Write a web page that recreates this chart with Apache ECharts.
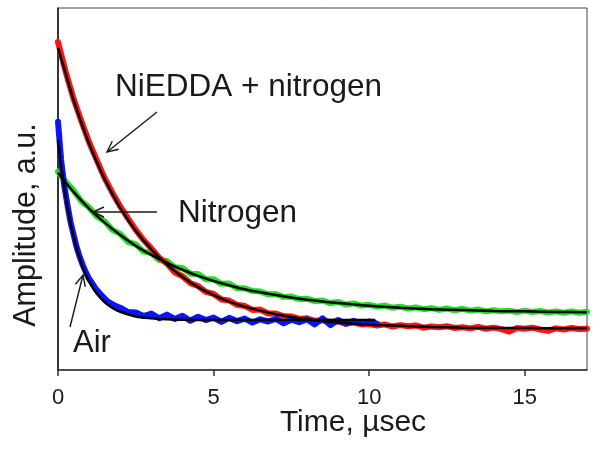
<!DOCTYPE html>
<html>
<head>
<meta charset="utf-8">
<script src="https://cdn.jsdelivr.net/npm/echarts@6/dist/echarts.min.js"></script>
<style>
html,body{margin:0;padding:0;background:#fff;}
#chart{width:601px;height:453px;}
</style>
</head>
<body>
<div id="chart"></div>
<script>
// ---- data (time in µsec, amplitude in a.u. 0..100) ----
const xTickLabels = [0, 5, 10, 15];

const tData = [0,0.25,0.5,0.75,1,1.25,1.5,1.75,2,2.25,2.5,2.75,3,3.25,3.5,3.75,4,4.25,4.5,4.75,5,5.25,5.5,5.75,6,6.25,6.5,6.75,7,7.25,7.5,7.75,8,8.25,8.5,8.75,9,9.25,9.5,9.75,10,10.25,10.5,10.75,11,11.25,11.5,11.75,12,12.25,12.5,12.75,13,13.25,13.5,13.75,14,14.25,14.5,14.75,15,15.25,15.5,15.75,16,16.25,16.5,16.75,17];

const niEddaData = [90.6,82.3,74.9,68.8,62.9,57.9,53.0,48.9,45.2,41.9,38.7,35.9,33.6,31.0,29.4,27.0,25.9,24.0,23.2,21.6,21.0,19.5,19.2,18.0,17.7,16.6,16.7,15.6,15.6,14.9,14.8,14.1,14.3,13.6,13.7,13.3,13.4,12.8,13.1,12.6,12.7,12.3,12.6,12.0,12.4,12.1,12.3,11.7,12.0,11.8,12.1,11.6,11.8,11.5,11.9,11.4,11.7,11.3,10.6,11.6,11.4,11.7,11.2,10.8,11.5,11.2,11.6,11.3,11.4];

const nitrogenData = [54.8,52.0,49.6,46.6,44.9,42.4,41.1,38.7,37.6,35.4,34.7,32.7,32.3,30.4,30.1,28.4,28.2,26.6,26.5,25.1,25.1,23.8,23.9,22.6,22.6,21.8,21.7,20.9,21.0,20.2,20.3,19.6,19.7,19.0,19.2,18.5,18.8,18.1,18.4,17.8,18.0,17.5,17.8,17.2,17.5,17.0,17.3,16.8,17.1,16.6,17.0,16.5,16.9,16.4,16.7,16.2,16.5,16.2,16.4,16.0,16.4,16.0,16.3,15.9,16.2,15.8,16.2,15.8,16.1];

const tAir = [0,0.1,0.2,0.3,0.4,0.5,0.6,0.7,0.8,0.9,1.0,1.2,1.4,1.6,1.8,2.0,2.25,2.5,2.75,3,3.25,3.5,3.75,4,4.25,4.5,4.75,5,5.25,5.5,5.75,6,6.25,6.5,6.75,7,7.25,7.5,7.75,8,8.25,8.5,8.75,9,9.25,9.5,9.75,10,10.25];
const airData = [68.6,58.0,51.0,45.8,41.0,37.4,33.9,31.2,28.9,26.9,25.2,22.6,20.6,18.9,17.9,17.2,16.0,15.9,14.9,15.6,14.3,15.3,14.1,15.0,13.6,14.7,13.8,14.5,13.3,14.4,13.5,14.2,13.1,14.0,13.4,14.1,12.9,13.9,13.2,14.0,12.6,14.3,12.4,13.8,12.8,13.6,12.9,13.4,12.8];

// fitted curves (black)
const tFitNiEdda = [0,0.25,0.5,0.75,1,1.25,1.5,1.75,2,2.5,3,3.5,4,4.5,5,5.5,6,7,8,9,10,11,12,13,14,15,16,17];
const niEddaFit = [89.0,81.8,74.6,68.3,62.5,57.4,52.7,48.6,44.8,38.4,33.3,29.1,25.7,22.9,20.7,18.9,17.5,15.4,14.0,13.1,12.5,12.2,11.9,11.7,11.6,11.6,11.5,11.5];

const tFitNitrogen = [0,0.5,1,1.5,2,2.5,3,3.5,4,4.5,5,6,7,8,9,10,11,12,13,14,15,16,17];
const nitrogenFit = [54.5,49.2,44.6,40.7,37.3,34.3,31.8,29.6,27.7,26.0,24.6,22.3,20.7,19.4,18.5,17.75,17.2,16.8,16.55,16.3,16.2,16.05,15.96];

const tFitAir = [0,0.1,0.2,0.3,0.4,0.5,0.6,0.7,0.8,0.9,1.0,1.2,1.4,1.6,1.8,2.0,2.5,3,3.5,4,5,6,7,8,9,10.2];
const airFit = [63.6,56.5,50.4,45.2,40.7,36.9,33.6,30.8,28.3,26.2,24.5,21.6,19.6,18.0,16.9,16.1,14.8,14.3,14.0,13.9,13.8,13.8,13.8,13.8,13.8,13.8];

// annotation texts
const labelNiEdda = 'NiEDDA + nitrogen';
const labelNitrogen = 'Nitrogen';
const labelAir = 'Air';
const xTitle = 'Time, µsec';
const yTitle = 'Amplitude, a.u.';

function pairs(xs, ys){ return ys.map((v,i)=>[xs[i], v]); }

const FONT = '"Liberation Sans", Arial, sans-serif';
const INK = '#1a1a1a';

function dataSeries(name, xs, ys, color, z){
  return {name, type:'line', data:pairs(xs,ys), showSymbol:false, symbol:'none',
    lineStyle:{color, width:6, cap:'round', join:'round'}, z, silent:true, animation:false};
}
function fitSeries(name, xs, ys, z){
  return {name, type:'line', data:pairs(xs,ys), showSymbol:false, symbol:'none', smooth:0.3,
    lineStyle:{color:'#000', width:2.5}, z, silent:true, animation:false};
}

function arrow(tail, tip, h1, h2){
  return [
    {type:'line', shape:{x1:tail[0], y1:tail[1], x2:tip[0], y2:tip[1]}, style:{stroke:INK, lineWidth:1.4}, z:100},
    {type:'polyline', shape:{points:[h1, tip, h2]}, style:{stroke:INK, lineWidth:1.4, fill:null}, z:100}
  ];
}

const chart = echarts.init(document.getElementById('chart'), null, {renderer:'canvas'});
chart.setOption({
  animation:false,
  backgroundColor:'#fff',
  grid:{left:58, right:14, top:8, bottom:83, show:true, borderColor:'#444', borderWidth:1, backgroundColor:'transparent'},
  xAxis:{type:'value', min:0, max:17, interval:5,
    axisLine:{show:true, lineStyle:{color:'#333', width:1.5}},
    axisTick:{show:true, inside:false, length:6, lineStyle:{color:'#333', width:1.5}, customValues:xTickLabels},
    axisLabel:{show:true, fontFamily:FONT, fontSize:22, color:INK, margin:17, customValues:xTickLabels},
    splitLine:{show:false}},
  yAxis:{type:'value', min:0, max:100,
    axisLine:{show:true, lineStyle:{color:'#111', width:1.5}},
    axisTick:{show:false}, axisLabel:{show:false}, splitLine:{show:false}},
  series:[
    dataSeries('Nitrogen data', tData, nitrogenData, '#22e022', 2),
    dataSeries('NiEDDA data', tData, niEddaData, '#ff1414', 3),
    dataSeries('Air data', tAir, airData, '#0a14ff', 4),
    fitSeries('Nitrogen fit', tFitNitrogen, nitrogenFit, 5),
    fitSeries('NiEDDA fit', tFitNiEdda, niEddaFit, 5),
    fitSeries('Air fit', tFitAir, airFit, 5)
  ],
  graphic:[
    {type:'text', x:115, y:87, style:{text:labelNiEdda, font:'31.5px '+FONT, fill:INK, textAlign:'left', textVerticalAlign:'middle'}, z:100},
    {type:'text', x:178, y:213, style:{text:labelNitrogen, font:'31.5px '+FONT, fill:INK, textAlign:'left', textVerticalAlign:'middle'}, z:100},
    {type:'text', x:73, y:343, style:{text:labelAir, font:'31px '+FONT, fill:INK, textAlign:'left', textVerticalAlign:'middle'}, z:100},
    {type:'text', x:353, y:423, style:{text:xTitle, font:'30px '+FONT, fill:INK, textAlign:'center', textVerticalAlign:'middle'}, z:100},
    {type:'text', x:27, y:225, rotation:Math.PI/2, style:{text:yTitle, font:'30.5px '+FONT, fill:INK, textAlign:'center', textVerticalAlign:'middle'}, z:100},
    ...arrow([157,112],[107,152],[118.7,149.2],[112.3,141.2]),
    ...arrow([157,212],[93,212],[104,207],[104,217]),
    ...arrow([70,327],[83,275],[75.4,284.3],[85.3,286.8])
  ]
});
</script>
</body>
</html>
